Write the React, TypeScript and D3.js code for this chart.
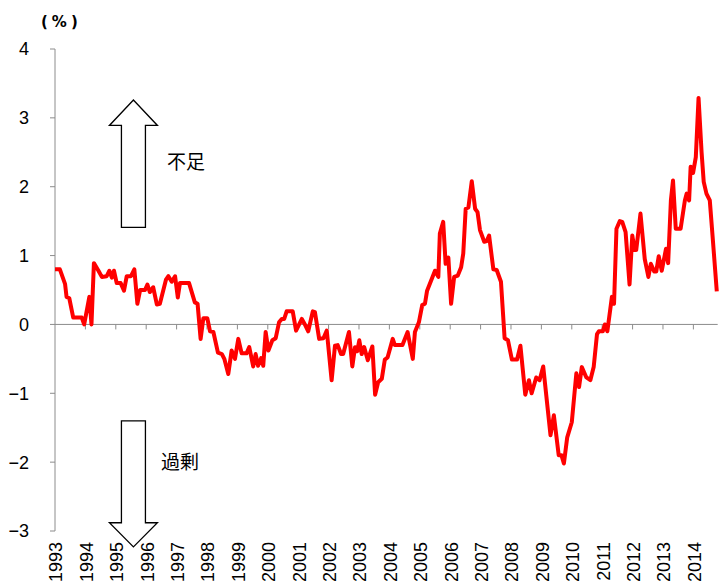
import React, { useEffect, useRef } from 'react';
import * as d3 from 'd3';

// 時点（年の小数表記）と値（%）
const times = [
  1993.0, 1993.16, 1993.33, 1993.38, 1993.47, 1993.6, 1993.88, 1993.96, 1994.13, 1994.2,
  1994.28, 1994.43, 1994.54, 1994.7, 1994.79, 1994.87, 1994.94, 1995.03, 1995.16, 1995.27,
  1995.36, 1995.5, 1995.61, 1995.71, 1995.8, 1995.96, 1996.04, 1996.12, 1996.23, 1996.35,
  1996.45, 1996.65, 1996.73, 1996.84, 1996.95, 1997.04, 1997.11, 1997.41, 1997.6, 1997.69,
  1997.79, 1997.88, 1998.01, 1998.1, 1998.21, 1998.36, 1998.49, 1998.57, 1998.7, 1998.81,
  1998.92, 1999.03, 1999.14, 1999.3, 1999.39, 1999.52, 1999.6, 1999.68, 1999.78, 1999.85,
  1999.93, 2000.02, 2000.15, 2000.26, 2000.37, 2000.46, 2000.54, 2000.62, 2000.82, 2000.93,
  2001.12, 2001.22, 2001.33, 2001.48, 2001.55, 2001.69, 2001.83, 2001.94, 2002.1, 2002.21,
  2002.3, 2002.41, 2002.48, 2002.67, 2002.78, 2002.87, 2002.94, 2003.01, 2003.09, 2003.17,
  2003.29, 2003.44, 2003.53, 2003.63, 2003.75, 2003.85, 2003.94, 2004.11, 2004.18, 2004.43,
  2004.6, 2004.77, 2004.84, 2004.97, 2005.08, 2005.17, 2005.24, 2005.5, 2005.61, 2005.66,
  2005.77, 2005.85, 2005.94, 2006.03, 2006.13, 2006.25, 2006.36, 2006.43, 2006.51, 2006.6,
  2006.71, 2006.82, 2006.9, 2006.98, 2007.12, 2007.2, 2007.28, 2007.42, 2007.53, 2007.67,
  2007.79, 2007.9, 2008.03, 2008.2, 2008.31, 2008.47, 2008.59, 2008.68, 2008.83, 2008.94,
  2009.06, 2009.3, 2009.41, 2009.57, 2009.66, 2009.74, 2009.85, 2010.0, 2010.15, 2010.24,
  2010.33, 2010.48, 2010.61, 2010.72, 2010.83, 2010.89, 2011.02, 2011.09, 2011.17, 2011.32,
  2011.39, 2011.47, 2011.58, 2011.66, 2011.77, 2011.9, 2011.99, 2012.07, 2012.12, 2012.26,
  2012.4, 2012.52, 2012.6, 2012.71, 2012.78, 2012.86, 2012.96, 2013.1, 2013.17, 2013.26,
  2013.33, 2013.42, 2013.58, 2013.72, 2013.78, 2013.86, 2013.91, 2013.99, 2014.08, 2014.17,
  2014.27, 2014.34, 2014.43, 2014.54, 2014.63, 2014.77,
];

const values = [
  0.8, 0.8, 0.59, 0.4, 0.38, 0.1, 0.1, 0.0, 0.4, 0.0,
  0.89, 0.78, 0.69, 0.7, 0.78, 0.68, 0.78, 0.6, 0.6, 0.49,
  0.7, 0.7, 0.8, 0.3, 0.5, 0.5, 0.58, 0.47, 0.54, 0.29,
  0.3, 0.65, 0.7, 0.62, 0.7, 0.39, 0.6, 0.6, 0.32, 0.3,
  -0.21, 0.09, 0.09, -0.1, -0.11, -0.41, -0.43, -0.5, -0.72, -0.38,
  -0.5, -0.21, -0.42, -0.42, -0.33, -0.61, -0.43, -0.6, -0.49, -0.6,
  -0.11, -0.38, -0.23, -0.2, 0.03, 0.08, 0.08, 0.19, 0.19, -0.09,
  0.08, 0.0, -0.1, 0.19, 0.18, -0.21, -0.2, -0.09, -0.81, -0.31,
  -0.3, -0.43, -0.43, -0.11, -0.61, -0.33, -0.39, -0.23, -0.43, -0.33,
  -0.52, -0.32, -1.02, -0.84, -0.79, -0.51, -0.48, -0.21, -0.3, -0.3,
  -0.11, -0.5, -0.11, 0.03, 0.28, 0.3, 0.49, 0.78, 0.69, 1.32,
  1.49, 0.88, 0.97, 0.3, 0.69, 0.71, 0.83, 1.03, 1.68, 1.7,
  2.08, 1.68, 1.63, 1.37, 1.2, 1.21, 1.29, 0.8, 0.79, 0.62,
  -0.2, -0.23, -0.51, -0.51, -0.31, -1.02, -0.81, -1.0, -0.77, -0.81,
  -0.61, -1.61, -1.32, -1.9, -1.9, -2.02, -1.64, -1.42, -0.71, -0.91,
  -0.62, -0.77, -0.81, -0.62, -0.14, -0.1, -0.1, 0.0, -0.1, 0.4,
  0.3, 1.39, 1.5, 1.49, 1.34, 0.58, 1.29, 1.08, 1.08, 1.61,
  0.95, 0.69, 0.88, 0.77, 0.77, 0.99, 0.78, 1.1, 0.89, 1.8,
  2.09, 1.39, 1.39, 1.8, 1.9, 1.8, 2.29, 2.2, 2.43, 3.29,
  2.5, 2.07, 1.9, 1.8, 1.29, 0.48,
];

const yearTicks = d3.range(1993, 2015);
const valueTicks = [4, 3, 2, 1, 0, -1, -2, -3];

const ChartApp = () => {
  const chartRef = useRef<SVGSVGElement>(null);

  useEffect(() => {
    if (!chartRef.current) return;

    const width = 722;
    const height = 581;
    const left = 55;
    const right = 717.7;
    const top = 49;
    const bottom = 531;
    const axisColor = '#8c8c8c';
    const font = '"Liberation Sans Narrow", "Liberation Sans", Arial, sans-serif';
    const cjkFont = '"Noto Sans CJK JP", sans-serif';

    const svg = d3.select(chartRef.current);
    svg.selectAll('*').remove();
    svg.attr('width', width).attr('height', height);

    const x = d3.scaleLinear().domain([1993, 2014.8]).range([left, right]);
    const y = d3.scaleLinear().domain([-3, 4]).range([bottom, top]);

    // 縦軸
    svg.append('line')
      .attr('x1', left).attr('x2', left)
      .attr('y1', y(4)).attr('y2', y(-3))
      .attr('stroke', axisColor).attr('stroke-width', 1);

    valueTicks.forEach(v => {
      svg.append('line')
        .attr('x1', left - 5).attr('x2', left)
        .attr('y1', y(v)).attr('y2', y(v))
        .attr('stroke', axisColor).attr('stroke-width', 1);
      svg.append('text')
        .attr('x', 29)
        .attr('y', y(v))
        .attr('dy', '0.36em')
        .attr('text-anchor', 'end')
        .style('font-family', font)
        .style('font-size', '18px')
        .style('fill', '#000')
        .text(v < 0 ? `\u2212${-v}` : `${v}`);
    });

    // 単位
    svg.append('text')
      .attr('x', 41).attr('y', 27)
      .style('font-family', '"DejaVu Sans", sans-serif')
      .style('font-size', '15px')
      .style('font-weight', 'bold')
      .style('letter-spacing', '4px')
      .text('(%)');

    // 横軸（ゼロ線）
    svg.append('line')
      .attr('x1', left).attr('x2', right)
      .attr('y1', y(0)).attr('y2', y(0))
      .attr('stroke', axisColor).attr('stroke-width', 1);

    yearTicks.forEach(yr => {
      if (yr > 1993) {
        svg.append('line')
          .attr('x1', x(yr)).attr('x2', x(yr))
          .attr('y1', y(0)).attr('y2', y(0) + 5)
          .attr('stroke', axisColor).attr('stroke-width', 1);
      }
      svg.append('text')
        .attr('transform', `translate(${x(yr) + 1}, 542) rotate(-90)`)
        .attr('text-anchor', 'end')
        .attr('dy', '0.36em')
        .style('font-family', font)
        .style('font-size', '18px')
        .style('fill', '#000')
        .text(yr);
    });

    // 矢印（不足・過剰）
    const ax = x(1995.58);
    const shaftHalf = 12;
    const headHalf = 24;
    const upTip = 3.26, upBase = 2.89, upEnd = 1.41;
    const upPts = [
      [ax, y(upTip)], [ax + headHalf, y(upBase)], [ax + shaftHalf, y(upBase)],
      [ax + shaftHalf, y(upEnd)], [ax - shaftHalf, y(upEnd)], [ax - shaftHalf, y(upBase)],
      [ax - headHalf, y(upBase)],
    ];
    const dnTip = -3.23, dnBase = -2.88, dnEnd = -1.4;
    const dnPts = [
      [ax, y(dnTip)], [ax + headHalf, y(dnBase)], [ax + shaftHalf, y(dnBase)],
      [ax + shaftHalf, y(dnEnd)], [ax - shaftHalf, y(dnEnd)], [ax - shaftHalf, y(dnBase)],
      [ax - headHalf, y(dnBase)],
    ];
    [upPts, dnPts].forEach(pts => {
      svg.append('polygon')
        .attr('points', pts.map(p => p.join(',')).join(' '))
        .attr('fill', '#fff')
        .attr('stroke', '#000')
        .attr('stroke-width', 1.3);
    });

    svg.append('text')
      .attr('x', 167).attr('y', y(2.36))
      .attr('dy', '0.36em')
      .style('font-family', cjkFont)
      .style('font-size', '19px')
      .text('不足');
    svg.append('text')
      .attr('x', 161).attr('y', y(-2.0))
      .attr('dy', '0.36em')
      .style('font-family', cjkFont)
      .style('font-size', '19px')
      .text('過剰');

    // 折れ線
    const points = times.map((t, i) => [t, values[i]] as [number, number]);
    const line = d3.line<[number, number]>()
      .x(d => x(d[0]))
      .y(d => y(d[1]));

    svg.append('path')
      .datum(points)
      .attr('fill', 'none')
      .attr('stroke', '#ff0000')
      .attr('stroke-width', 4)
      .attr('stroke-linejoin', 'round')
      .attr('d', line);
  }, []);

  return (
    <svg
      ref={chartRef}
      style={{ position: 'absolute', left: 0, top: 0, background: '#fff' }}
    />
  );
};

export default function App() {
  return <ChartApp />;
}
